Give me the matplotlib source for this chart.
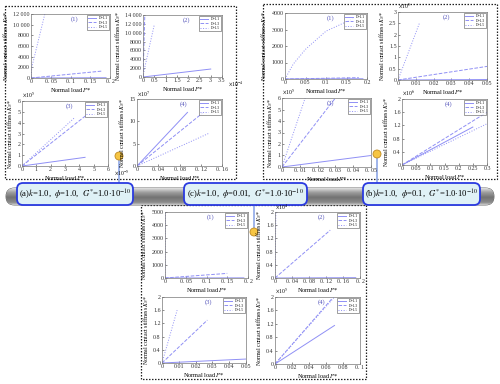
import numpy as np
import matplotlib.pyplot as plt
from matplotlib.patches import FancyBboxPatch, Rectangle, Circle

plt.rcParams['font.family'] = ['Liberation Serif', 'DejaVu Serif']
plt.rcParams['mathtext.fontset'] = 'stix'

W, H = 500, 384
labels = ["D=1.1", "D=1.3", "D=1.5"]
styles = ["-", "--", ":"]

# series: (x list, y list) for D=1.1, D=1.3, D=1.5
a1 = [([0, 0.19], [0, 50]), ([0, 0.18], [0, 1300]), ([0, 0.002, 0.035], [0, 2000, 12000])]
a2 = [([0, 3.0], [0, 1800]), ([0, 0.08], [0, 14000]), ([0, 0.05, 0.5], [0, 1500, 11800])]
a3 = [([0, 4.4], [0, 0.8]), ([0, 4.5], [0, 4.7]), ([0, 3.7], [0, 4.5])]
a4 = [([0, 0.095], [0, 12]), ([0, 0.125], [0, 12]), ([0, 0.135], [0, 7.3])]

b1 = [([0, 0.19], [0, 15]), ([0, 0.18], [0, 80]),
      ([0, 0.02, 0.05, 0.1, 0.17], [0, 900, 1800, 2900, 3700])]
b2 = [([0, 0.05], [0, 0.02]), ([0, 0.05], [0, 0.6]), ([0, 0.012], [0, 2.5])]
b3 = [([0, 0.05], [0, 1.0]), ([0, 0.03], [0, 6]), ([0, 0.013], [0, 6])]
b4 = [([0, 0.25], [0, 1.15]), ([0, 0.3], [0, 1.6]), ([0, 0.3], [0, 1.25])]

c1 = [([0, 0.19], [0, 10]), ([0, 0.15], [0, 350]), ([0, 0.001], [0, 5000])]
c2 = [([0, 0.19], [0, 0.01]), ([0, 0.13], [0, 1.45]), ([0, 0.002], [0, 2])]
c3 = [([0, 0.05], [0, 0.12]), ([0, 0.027], [0, 1.3]), ([0, 0.009], [0, 1.6])]
c4 = [([0, 0.07], [0, 1.15]), ([0, 0.067], [0, 1.95]), ([0, 0.07], [0, 2.0])]

# panel: data, tag, pixel box, xlim, xticks, xticklabels, ylim, yticks, yticklabels, x exp, y exp
panels = [
    (a1, "(1)", (31, 14, 110, 78), 0.2, [0, 0.05, 0.1, 0.15, 0.2], ["0", "0. 05", "0. 1", "0. 15", "0. 2"],
     12000, list(range(0, 12001, 2000)), ["0", "2000", "4000", "6000", "8000", "10 000", "12 000"], None, None),
    (a2, "(2)", (143, 15, 222, 77), 3.5, [0, 0.5, 1, 1.5, 2, 2.5, 3, 3.5], ["0", "0.5", "1", "1.5", "2", "2.5", "3", "3.5"],
     14000, list(range(0, 14001, 2000)), ["0", "2000", "4000", "6000", "8000", "10 000", "12 000", "14 000"], "-4", None),
    (a3, "(3)", (22, 101, 108, 166), 6, list(range(7)), [str(v) for v in range(7)],
     6, list(range(7)), [str(v) for v in range(7)], "-5", "5"),
    (a4, "(4)", (137, 99, 222, 166), 0.16, [0, 0.04, 0.08, 0.12, 0.16], ["0", "0. 04", "0. 08", "0. 12", "0. 16"],
     15, [0, 5, 10, 15], ["0", "5", "10", "15"], None, "7"),
    (b1, "(1)", (285, 13, 367, 79), 0.2, [0, 0.05, 0.1, 0.15, 0.2], ["0", "0.05", "0.1", "0.15", "0.2"],
     4000, [0, 1000, 2000, 3000, 4000], ["0", "1000", "2000", "3000", "4000"], None, None),
    (b2, "(2)", (398, 12, 487, 80), 0.05, [0, 0.01, 0.02, 0.03, 0.04, 0.05], ["0", "0.01", "0.02", "0.03", "0.04", "0.05"],
     3, [0, 0.5, 1, 1.5, 2, 2.5, 3], ["0", "0.5", "1", "1.5", "2", "2.5", "3"], None, "5"),
    (b3, "(3)", (282, 98, 371, 167), 0.05, [0, 0.01, 0.02, 0.03, 0.04, 0.05], ["0", "0. 01", "0. 02", "0. 03", "0. 04", "0. 05"],
     6, list(range(7)), [str(v) for v in range(7)], None, "5"),
    (b4, "(4)", (402, 99, 487, 165), 0.3, [0, 0.05, 0.1, 0.15, 0.2, 0.25, 0.3], ["0", "0.05", "0.1", "0.15", "0.2", "0.25", "0.3"],
     2, [0, 0.4, 0.8, 1.2, 1.6, 2], ["0", "0.4", "0.8", "1.2", "1.6", "2"], None, "6"),
    (c1, "(1)", (165, 212, 248, 278), 0.2, [0, 0.05, 0.1, 0.15, 0.2], ["0", "0. 05", "0. 1", "0. 15", "0. 2"],
     5000, list(range(0, 5001, 1000)), ["0", "1000", "2000", "3000", "4000", "5000"], None, None),
    (c2, "(2)", (275, 212, 360, 278), 0.2, [0, 0.04, 0.08, 0.12, 0.16, 0.2], ["0", "0. 04", "0. 08", "0. 12", "0. 16", "0. 2"],
     2, [0, 0.4, 0.8, 1.2, 1.6, 2], ["0", "0.4", "0.8", "1.2", "1.6", "2"], None, "4"),
    (c3, "(3)", (162, 297, 246, 363), 0.05, [0, 0.01, 0.02, 0.03, 0.04, 0.05], ["0", "0.01", "0.02", "0.03", "0.04", "0.05"],
     2, [0, 0.4, 0.8, 1.2, 1.6, 2], ["0", "0.4", "0.8", "1.2", "1.6", "2"], None, None),
    (c4, "(4)", (275, 297, 360, 364), 0.1, [0, 0.02, 0.04, 0.06, 0.08, 0.1], ["0", "0.02", "0.04", "0.06", "0.08", "0. 1"],
     2, [0, 0.4, 0.8, 1.2, 1.6, 2], ["0", "0.4", "0.8", "1.2", "1.6", "2"], None, "5"),
]

line_c = "#8f8ff5"
conn_c = "#8fa8e8"

fig = plt.figure(figsize=(W / 100, H / 100), dpi=100)
bg = fig.add_axes([0, 0, 1, 1])
bg.set_xlim(0, W)
bg.set_ylim(H, 0)
bg.axis("off")

# dashed group frames
for x0, y0, x1, y1 in [(5, 6, 236, 179), (263, 4, 497, 179), (141, 205, 366, 379)]:
    bg.add_patch(Rectangle((x0, y0), x1 - x0, y1 - y0, fill=False, ls=(0, (1.2, 1.2)), lw=0.9, ec="#222222"))

# connectors
bg.plot([119, 119], [160, 190], color=conn_c, lw=1.2)
bg.plot([377, 377], [158, 190], color=conn_c, lw=1.2)
bg.plot([254, 254], [203, 229], color=conn_c, lw=1.2)
for cx, cy in [(119, 156), (377, 154), (254, 232)]:
    bg.add_patch(Circle((cx, cy), 4, fc="#f6c543", ec="#c08a20", lw=0.6, zorder=5))

# metal tube
tube = FancyBboxPatch((6, 188), 488, 17, boxstyle="round,pad=0,rounding_size=8.5", fc="none", ec="#555555", lw=0.6)
bg.add_patch(tube)
grad = np.interp(np.linspace(0, 1, 64), [0, 0.25, 0.55, 0.85, 1], [0.88, 0.62, 0.45, 0.55, 0.8])
img = bg.imshow(np.tile(grad[:, None], (1, 2)), cmap="gray", vmin=0, vmax=1, aspect="auto",
                extent=[6, 494, 205, 188], zorder=1)
img.set_clip_path(tube)

# label boxes
tags = [(17, 133, r"(a)$k$=1.0,  $\phi$=1.0,  $G^{*}$=1.0$\cdot$10$^{-10}$"),
        (184, 307, r"(c)$k$=1.0,  $\phi$=0.01,  $G^{*}$=1.0$\cdot$10$^{-10}$"),
        (363, 480, r"(b)$k$=1.0,  $\phi$=0.1,  $G^{*}$=1.0$\cdot$10$^{-10}$")]
for x0, x1, txt in tags:
    bg.add_patch(FancyBboxPatch((x0, 183), x1 - x0, 22, boxstyle="round,pad=0,rounding_size=6",
                                fc="#dff1f6", ec="#2a3ae0", lw=1.3, zorder=3))
    bg.text((x0 + x1) / 2, 194.5, txt, ha="center", va="center", fontsize=6.2, zorder=4)

for data, tag, (x0, y0, x1, y1), xm, xt, xtl, ym, yt, ytl, xe, ye in panels:
    ax = fig.add_axes([x0 / W, 1 - y1 / H, (x1 - x0) / W, (y1 - y0) / H])
    for (xs, ys), lab, ls in zip(data, labels, styles):
        ax.plot(xs, ys, ls=ls, color=line_c, lw=0.7, label=lab)
    ax.set_xlim(0, xm)
    ax.set_ylim(0, ym)
    ax.set_xticks(xt)
    ax.set_xticklabels(xtl)
    ax.set_yticks(yt)
    ax.set_yticklabels(ytl)
    ax.tick_params(direction="in", length=1.5, width=0.4, labelsize=4.3, pad=1, colors="#333333")
    for s in ax.spines.values():
        s.set_color("#777777")
        s.set_linewidth(0.5)
    ax.set_xlabel(r"Normal load $P$*", fontsize=4.5, labelpad=1.5)
    ax.set_ylabel(r"Normal contact stiffness $K_N$*", fontsize=4.2, labelpad=1.5)
    ax.text(0.55, 0.92, tag, transform=ax.transAxes, fontsize=4.8, color="#5555bb", ha="center", va="center")
    if xe:
        ax.text(1.07, -0.04, r"$\times$10$^{%s}$" % xe, transform=ax.transAxes, fontsize=4, va="top")
    if ye:
        ax.text(0.0, 1.01, r"$\times$10$^{%s}$" % ye, transform=ax.transAxes, fontsize=4, va="bottom")
    leg = ax.legend(loc="upper right", fontsize=2.6, handlelength=2.2, borderpad=0.3, labelspacing=0.15,
                    frameon=True, fancybox=False, borderaxespad=0.3)
    leg.get_frame().set_edgecolor("#555555")
    leg.get_frame().set_linewidth(0.5)

fig.savefig("out.png", dpi=100)
